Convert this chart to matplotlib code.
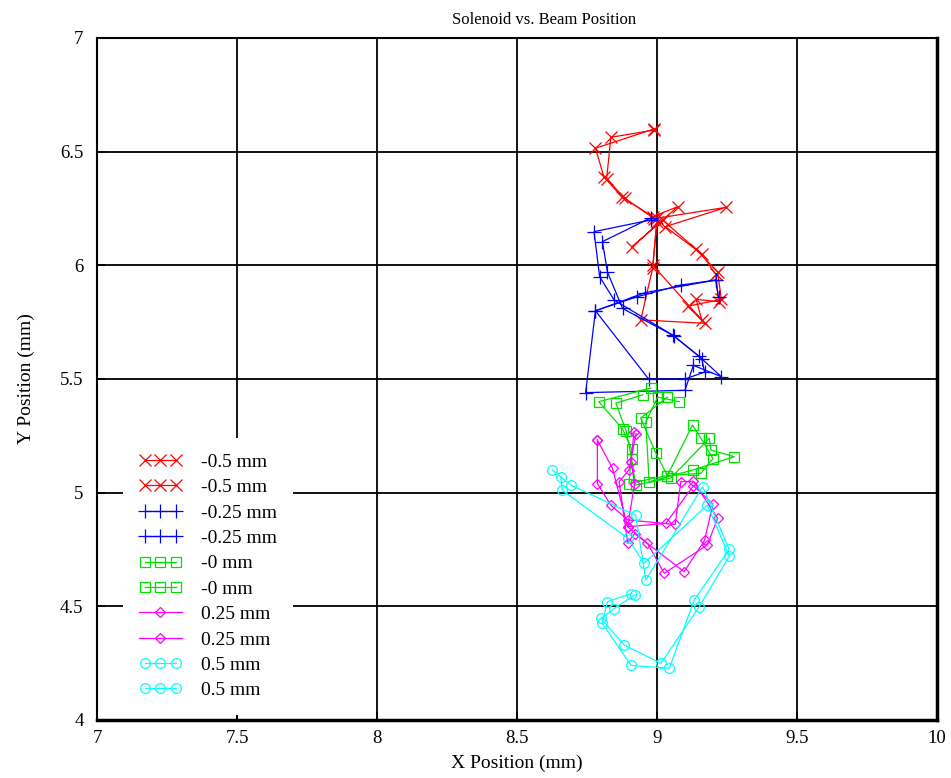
import matplotlib
matplotlib.use("Agg")
import matplotlib.pyplot as plt
from matplotlib.legend_handler import HandlerLine2D

plt.rcParams["font.family"] = ["Liberation Serif", "DejaVu Serif"]

# Beam centroid traces for each solenoid offset (two passes per setting)
red_a_x = [8.99, 8.78, 8.81, 8.875, 8.985, 9.074, 8.91, 9.02, 9.14, 9.217, 9.23, 9.11, 9.17, 8.942, 8.985, 9.0]
red_a_y = [6.60, 6.515, 6.39, 6.30, 6.214, 6.258, 6.08, 6.20, 6.07, 5.97, 5.85, 5.82, 5.745, 5.76, 5.99, 6.21]
red_b_x = [8.99, 8.835, 8.82, 8.885, 8.99, 9.247, 9.03, 9.16, 9.21, 9.22, 9.14, 9.16, 8.985, 9.0]
red_b_y = [6.595, 6.563, 6.38, 6.295, 6.205, 6.255, 6.17, 6.05, 5.96, 5.84, 5.85, 5.76, 6.0, 6.19]

blue_a_x = [8.98, 8.775, 8.795, 8.847, 9.056, 9.15, 9.23, 9.13, 9.10, 8.745, 8.78, 8.958, 9.21, 9.22]
blue_a_y = [6.20, 6.148, 5.95, 5.847, 5.693, 5.60, 5.51, 5.56, 5.45, 5.44, 5.80, 5.88, 5.935, 5.86]
blue_b_x = [8.98, 8.805, 8.823, 8.877, 9.06, 9.16, 9.17, 9.10, 8.97, 8.78, 8.93, 9.085, 9.21]
blue_b_y = [6.21, 6.104, 5.97, 5.81, 5.69, 5.59, 5.53, 5.50, 5.50, 5.80, 5.862, 5.913, 5.935]

green_a_x = [8.978, 8.792, 8.877, 8.91, 8.90, 9.037, 9.127, 9.157, 9.20, 9.157, 9.037, 8.996, 8.942, 9.037]
green_a_y = [5.46, 5.40, 5.28, 5.19, 5.04, 5.075, 5.297, 5.239, 5.15, 5.085, 5.075, 5.173, 5.328, 5.42]
green_b_x = [8.949, 8.853, 8.89, 8.91, 8.924, 9.05, 9.187, 9.193, 9.276, 9.13, 8.972, 8.96, 9.002, 9.08]
green_b_y = [5.43, 5.394, 5.27, 5.146, 5.033, 5.065, 5.239, 5.187, 5.158, 5.10, 5.048, 5.31, 5.42, 5.40]

magenta_a_x = [8.918, 8.907, 8.92, 8.895, 8.966, 9.026, 9.18, 9.217, 9.13, 9.085, 9.065, 8.895, 8.835, 8.787, 8.787]
magenta_a_y = [5.268, 5.136, 5.04, 4.85, 4.777, 4.645, 4.77, 4.887, 5.05, 5.048, 4.86, 4.88, 4.945, 5.04, 5.231]
magenta_b_x = [8.925, 8.90, 8.865, 8.895, 8.92, 9.097, 9.17, 9.20, 9.13, 9.032, 8.895, 8.841, 8.787]
magenta_b_y = [5.26, 5.10, 5.048, 4.78, 4.82, 4.652, 4.79, 4.95, 5.03, 4.865, 4.85, 5.107, 5.231]

cyan_a_x = [8.626, 8.692, 8.924, 8.96, 9.163, 9.258, 9.133, 9.044, 8.907, 8.805, 8.823, 8.906]
cyan_a_y = [5.10, 5.033, 4.90, 4.615, 5.026, 4.75, 4.527, 4.227, 4.24, 4.425, 4.52, 4.556]
cyan_b_x = [8.656, 8.662, 8.895, 8.954, 9.18, 9.258, 9.151, 9.014, 8.882, 8.80, 8.847, 8.92]
cyan_b_y = [5.07, 5.01, 4.80, 4.689, 4.945, 4.72, 4.498, 4.249, 4.33, 4.447, 4.49, 4.55]

labels = ["-0.5 mm", "-0.5 mm", "-0.25 mm", "-0.25 mm", "-0 mm", "-0 mm",
          "0.25 mm", "0.25 mm", "0.5 mm", "0.5 mm"]
x_ticks = [7, 7.5, 8, 8.5, 9, 9.5, 10]
y_ticks = [4, 4.5, 5, 5.5, 6, 6.5, 7]

series = [
    (red_a_x, red_a_y, "#ff0000", "x", 9),
    (red_b_x, red_b_y, "#ff0000", "x", 9),
    (blue_a_x, blue_a_y, "#0000ff", "+", 10),
    (blue_b_x, blue_b_y, "#0000ff", "+", 10),
    (green_a_x, green_a_y, "#00e000", "s", 7),
    (green_b_x, green_b_y, "#00e000", "s", 7),
    (magenta_a_x, magenta_a_y, "#ff00ff", "D", 5),
    (magenta_b_x, magenta_b_y, "#ff00ff", "D", 5),
    (cyan_a_x, cyan_a_y, "#00ffff", "o", 7),
    (cyan_b_x, cyan_b_y, "#00ffff", "o", 7),
]

fig = plt.figure(figsize=(9.51, 7.78), dpi=100)
ax = fig.add_axes([0.1025, 0.0746, 0.8825, 0.8766])

handles = []
for (xs, ys, col, mk, ms), lab in zip(series, labels):
    line, = ax.plot(xs, ys, color=col, lw=0.9, marker=mk, ms=ms,
                    mfc="none", mec=col, mew=0.9, label=lab)
    handles.append(line)

ax.set_xlim(7, 10)
ax.set_ylim(4, 7)
ax.set_xticks(x_ticks)
ax.set_xticklabels(["7", "7.5", "8", "8.5", "9", "9.5", "10"])
ax.set_yticks(y_ticks)
ax.set_yticklabels(["4", "4.5", "5", "5.5", "6", "6.5", "7"])
ax.grid(True, color="black", lw=1.3)
ax.set_axisbelow(True)
ax.tick_params(direction="in", length=6, width=1.3, labelsize=13.5)
ax.tick_params(axis="y", pad=10)
ax.tick_params(axis="x", pad=7)
for side in ["left", "top"]:
    ax.spines[side].set_linewidth(1.5)
for side in ["right", "bottom"]:
    ax.spines[side].set_linewidth(2.5)

ax.set_title("Solenoid vs. Beam Position", fontsize=12, pad=10, x=0.532)
ax.set_xlabel("X Position (mm)", fontsize=14, labelpad=6)
ax.set_ylabel("Y Position (mm)", fontsize=14, labelpad=18)

single = HandlerLine2D(numpoints=1)
leg = ax.legend(handles=handles, loc="upper left", bbox_to_anchor=(0.031, 0.414),
                borderaxespad=0, fontsize=14, numpoints=3, handlelength=2.2,
                handletextpad=1.0, labelspacing=0.4, borderpad=0.8,
                frameon=True, fancybox=False,
                handler_map={handles[6]: single, handles[7]: single})
leg.get_frame().set_facecolor("white")
leg.get_frame().set_edgecolor("none")
leg.get_frame().set_alpha(1)

fig.savefig("out.png", dpi=100)
